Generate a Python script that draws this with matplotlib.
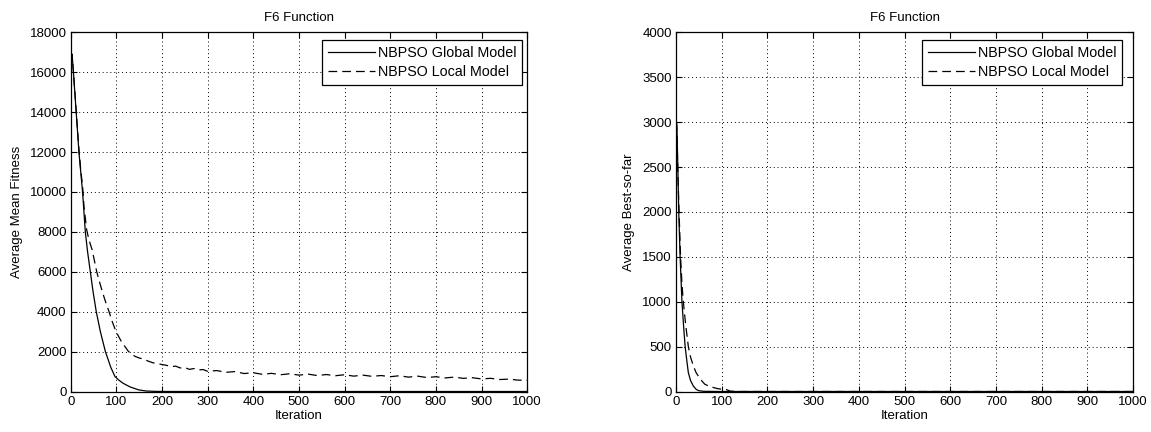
import matplotlib
matplotlib.use("Agg")
import matplotlib.pyplot as plt

# ---------------- data ----------------
title_text = "F6 Function"
x_label = "Iteration"
left_ylabel = "Average Mean Fitness"
right_ylabel = "Average Best-so-far"
legend_labels = ["NBPSO Global Model", "NBPSO Local Model"]

x_ticks = [0, 100, 200, 300, 400, 500, 600, 700, 800, 900, 1000]
left_yticks = [0, 2000, 4000, 6000, 8000, 10000, 12000, 14000, 16000, 18000]
right_yticks = [0, 500, 1000, 1500, 2000, 2500, 3000, 3500, 4000]

# Left panel: average mean fitness
mean_global_iter = [1, 3, 6, 9, 12, 15, 18, 22, 26, 29, 32, 37, 43, 49, 56, 65, 76,
                    88, 97, 106, 115, 130, 149, 165, 185, 210, 260, 400, 600, 800, 1000]
mean_global_val = [16700, 16900, 16000, 15000, 14000, 13000, 12000, 11000, 10000, 9000, 8000,
                   7000, 6000, 5000, 4000, 3000, 2000, 1200, 750, 560, 410, 230, 80, 25, 6,
                   1, 0, 0, 0, 0, 0]

mean_local_iter = [1, 3, 6, 9, 12, 15, 18, 22, 26, 29, 32, 35, 40, 47, 52, 57, 63, 70, 77, 84,
                   91, 99, 104, 111, 118, 126, 134, 141, 150,
                   160, 170, 180, 190, 200, 210, 220, 230, 240, 250, 260, 270, 280, 290, 300,
                   320, 340, 360, 380, 400, 420, 440,
                   460, 480, 500, 520, 540, 560, 580, 600, 620, 640, 660, 680, 700, 720, 740,
                   760, 780, 800, 820, 840, 860, 880, 900, 920, 940, 960, 980, 1000]
mean_local_val = [16700, 16900, 16000, 15050, 14100, 13100, 12150, 11100, 10300, 9300, 8700,
                  8100, 7600, 7100, 6550, 6000, 5500, 4950, 4450, 4000, 3500, 3020, 2800, 2500,
                  2280, 2020, 1870, 1760, 1680,
                  1620, 1520, 1440, 1400, 1350, 1310, 1250, 1270, 1180, 1200, 1110, 1150,
                  1080, 1100, 1010,
                  1050, 960, 1000, 900, 940, 860, 910, 840, 890, 820, 870, 800, 850, 790, 840,
                  770, 820, 760, 800, 740, 790, 720, 770, 700, 740, 680, 720, 660, 690, 630,
                  660, 600, 620, 570, 560]

# Right panel: average best-so-far
best_global_iter = [1, 2, 4, 6, 9, 13, 17, 20, 24, 27, 32, 38, 44, 49, 60, 100, 200, 400, 600, 800, 1000]
best_global_val = [3000, 2950, 2500, 2000, 1500, 1000, 700, 500, 330, 210, 120, 60, 25, 10, 2,
                   0, 0, 0, 0, 0, 0]

best_local_iter = [1, 2, 4, 7, 10, 13, 16, 21, 27, 32, 38, 44, 51, 57, 63, 72, 82, 90, 98,
                   104, 110, 118, 130, 200, 400, 600, 800, 1000]
best_local_val = [3000, 2900, 2450, 1950, 1500, 1200, 1000, 750, 500, 380, 285, 210, 155, 115,
                  81, 60, 44, 33, 27, 28, 22, 5, 0, 0, 0, 0, 0, 0]

# ---------------- styling ----------------
plt.rcParams['font.family'] = ['Liberation Sans', 'DejaVu Sans']
plt.rcParams['font.size'] = 9

fig = plt.figure(figsize=(11.51, 4.32), dpi=100)
ax_l = fig.add_axes([70.7 / 1151, 40.5 / 432, 456.5 / 1151, 359.2 / 432])
ax_r = fig.add_axes([676.0 / 1151, 40.5 / 432, 457.0 / 1151, 359.2 / 432])

dash_style = (0, (7, 4))


def style_axes(ax, yticks, ylabel):
    ax.set_xlim(0, 1000)
    ax.set_ylim(yticks[0], yticks[-1])
    ax.set_xticks(x_ticks)
    ax.set_yticks(yticks)
    ax.set_xticklabels([str(t) for t in x_ticks])
    ax.set_yticklabels([str(t) for t in yticks])
    ax.tick_params(direction='in', top=True, right=True, length=4, width=0.8,
                   labelsize=9.5, pad=3, colors='black')
    ax.grid(True, linestyle=(0, (1, 3)), color='black', linewidth=0.7)
    for s in ax.spines.values():
        s.set_linewidth(0.9)
        s.set_color('black')
    ax.set_title(title_text, fontsize=9.5, pad=8)
    ax.set_xlabel(x_label, fontsize=9.5, labelpad=2)
    ax.set_ylabel(ylabel, fontsize=9.5, labelpad=5)


ax_l.plot(mean_global_iter, mean_global_val, color='black', linewidth=0.9,
          linestyle='-', label=legend_labels[0])
ax_l.plot(mean_local_iter, mean_local_val, color='black', linewidth=0.9,
          linestyle=dash_style, label=legend_labels[1])
style_axes(ax_l, left_yticks, left_ylabel)

ax_r.plot(best_global_iter, best_global_val, color='black', linewidth=0.9,
          linestyle='-', label=legend_labels[0])
ax_r.plot(best_local_iter, best_local_val, color='black', linewidth=0.9,
          linestyle=dash_style, label=legend_labels[1])
style_axes(ax_r, right_yticks, right_ylabel)

for ax, xr in ((ax_l, 0.989), (ax_r, 0.977)):
    leg = ax.legend(loc='upper right', bbox_to_anchor=(xr, 0.979), borderaxespad=0,
                    fancybox=False, framealpha=1, edgecolor='black', fontsize=10.3,
                    handlelength=3.3, handletextpad=0.2, borderpad=0.4,
                    labelspacing=0.4)
    leg.get_frame().set_linewidth(0.9)

fig.savefig("out.png", dpi=100, facecolor='white')
